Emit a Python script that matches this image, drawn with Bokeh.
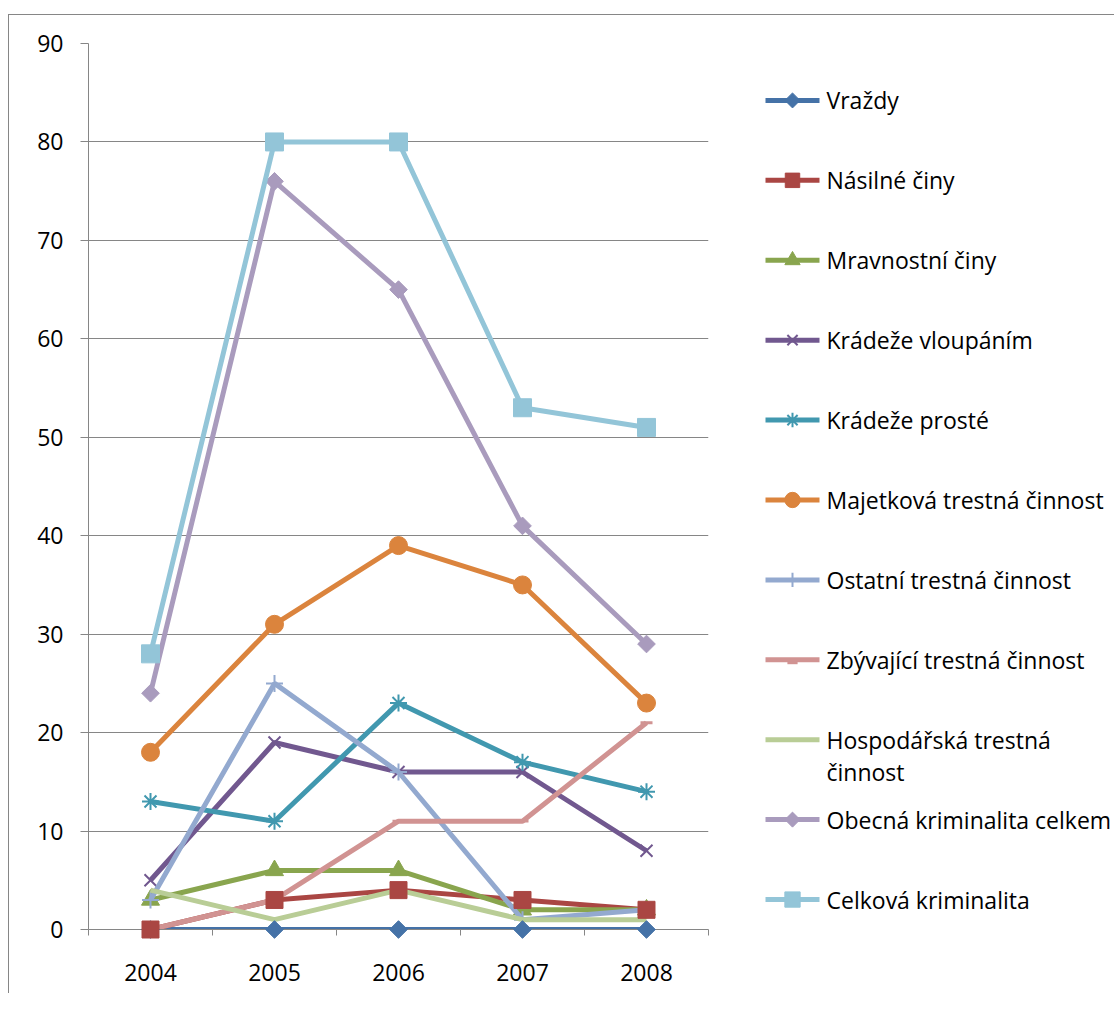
import math
from bokeh.plotting import figure
from bokeh.models import Range1d, LinearAxis, FixedTicker, ColumnDataSource
from bokeh.layouts import row
from bokeh.embed import file_html
from bokeh.resources import INLINE
from bokeh.core.properties import value

# ---------------- data ----------------
years = ["2004", "2005", "2006", "2007", "2008"]

vrazdy = [0, 0, 0, 0, 0]
nasilne = [0, 3, 4, 3, 2]
mravnostni = [3, 6, 6, 2, 2]
kradeze_vloupanim = [5, 19, 16, 16, 8]
kradeze_proste = [13, 11, 23, 17, 14]
majetkova = [18, 31, 39, 35, 23]
ostatni = [3, 25, 16, 1, 2]
zbyvajici = [0, 3, 11, 11, 21]
hospodarska = [4, 1, 4, 1, 1]
obecna = [24, 76, 65, 41, 29]
celkova = [28, 80, 80, 53, 51]

series_names = ["Vraždy", "Násilné činy", "Mravnostní činy", "Krádeže vloupáním",
                "Krádeže prosté", "Majetková trestná činnost", "Ostatní trestná činnost",
                "Zbývající trestná činnost", "Hospodářská trestná\nčinnost",
                "Obecná kriminalita celkem", "Celková kriminalita"]
series_values = [vrazdy, nasilne, mravnostni, kradeze_vloupanim, kradeze_proste,
                 majetkova, ostatni, zbyvajici, hospodarska, obecna, celkova]
colors = ["#4572A7", "#AA4643", "#89A54E", "#71588F", "#4198AF", "#DB843D",
          "#93A9CF", "#D19392", "#B9CD96", "#A99BBD", "#93C5D8"]
# "rhombus" = square rotated by 45 degrees
markers = ["rhombus", "square", "triangle", "x", "asterisk", "circle",
           "cross", "dash", None, "rhombus", "square"]
marker_sizes = [12.5, 17, 18, 17, 17, 18, 17, 12, 0, 12.5, 18]
y_ticks = [0, 10, 20, 30, 40, 50, 60, 70, 80, 90]

FONT = "Open Sans"
FS = "23px"
GRID = "#868686"
H = 978
LINE_W = 5

# category positions (centre of each category slot)
xpos = [i + 0.5 for i in range(len(years))]
bounds = list(range(len(years) + 1))


def draw_marker(fig, xs, ys, mk, size, col, src=None):
    if mk is None:
        return None
    kw = dict(size=size)
    if mk in ("x", "asterisk", "cross", "dash"):
        kw.update(line_color=col, line_width=2.8 if mk == "dash" else 2.0)
    else:
        kw.update(fill_color=col, line_color=col, line_width=1)
    m = mk
    if mk == "rhombus":
        m = "square"
        kw["angle"] = math.pi / 4
    if src is not None:
        return fig.scatter(xs, ys, source=src, marker=m, **kw)
    return fig.scatter(xs, ys, marker=m, **kw)


# ---------------- main chart ----------------
p = figure(width=711, height=H, output_backend="svg", toolbar_location=None,
           x_range=Range1d(0, len(years)), y_range=Range1d(0, 90),
           x_axis_location=None, y_axis_location=None,
           min_border_left=79, min_border_right=12, min_border_top=28,
           min_border_bottom=64)
p.outline_line_color = None
p.background_fill_color = "white"
p.border_fill_color = "white"

yaxis = LinearAxis(ticker=FixedTicker(ticks=y_ticks, minor_ticks=[]))
yaxis.axis_line_color = GRID
yaxis.major_tick_line_color = GRID
yaxis.major_tick_out = 8
yaxis.major_tick_in = 0
yaxis.minor_tick_line_color = None
yaxis.major_label_text_font = FONT
yaxis.major_label_text_font_size = FS
yaxis.major_label_text_color = "#000000"
yaxis.major_label_standoff = 17
p.add_layout(yaxis, "left")

xaxis = LinearAxis(ticker=FixedTicker(ticks=xpos, minor_ticks=bounds))
xaxis.axis_line_color = GRID
xaxis.major_tick_line_color = None
xaxis.minor_tick_line_color = GRID
xaxis.minor_tick_out = 6
xaxis.minor_tick_in = 0
xaxis.major_label_overrides = {x: y for x, y in zip(xpos, years)}
xaxis.major_label_text_font = FONT
xaxis.major_label_text_font_size = FS
xaxis.major_label_text_color = "#000000"
xaxis.major_label_standoff = 28
p.add_layout(xaxis, "below")

p.ygrid.ticker = FixedTicker(ticks=y_ticks)
p.ygrid.grid_line_color = GRID
p.ygrid.grid_line_width = 1
p.xgrid.grid_line_color = None

for name, vals, col, mk, ms in zip(series_names, series_values, colors, markers, marker_sizes):
    src = ColumnDataSource(dict(x=xpos, y=vals))
    p.line("x", "y", source=src, line_color=col, line_width=LINE_W)
    r = draw_marker(p, "x", "y", mk, ms, col, src=src)
    # markers sitting on the zero line: draw them at overlay level
    if r is not None and min(vals) == 0 and mk != "dash":
        r.level = "overlay"

# ---------------- legend panel (page-pixel coordinates) ----------------
LW = 394
leg = figure(width=LW, height=H, output_backend="svg", toolbar_location=None,
             x_range=Range1d(721, 721 + LW), y_range=Range1d(930, 43),
             x_axis_location=None, y_axis_location=None,
             min_border=0, min_border_left=0, min_border_right=0,
             min_border_top=0, min_border_bottom=0)
leg.outline_line_color = None
leg.xgrid.visible = False
leg.ygrid.visible = False
leg.background_fill_color = "white"
leg.border_fill_color = "white"

first_y = 100
step = 80
for i, (name, col, mk, ms) in enumerate(zip(series_names, colors, markers, marker_sizes)):
    yc = first_y + step * i
    leg.line([766, 820], [yc, yc], line_color=col, line_width=LINE_W)
    if mk is not None:
        draw_marker(leg, [793], [yc + (3 if mk == "dash" else 0)], mk, ms * 0.85, col)
    for j, part in enumerate(name.split("\n")):
        leg.text([827], [yc + 32 * j], text=[part], text_font=value(FONT),
                 text_font_size=value(FS), text_baseline="middle",
                 text_align="left", text_color="#000000")

layout = row(p, leg, styles={"margin-top": "14px", "margin-left": "8px",
                             "border-left": "1px solid #868686",
                             "border-top": "1px solid #868686"})

open("out.html", "w").write(file_html(layout, INLINE))
